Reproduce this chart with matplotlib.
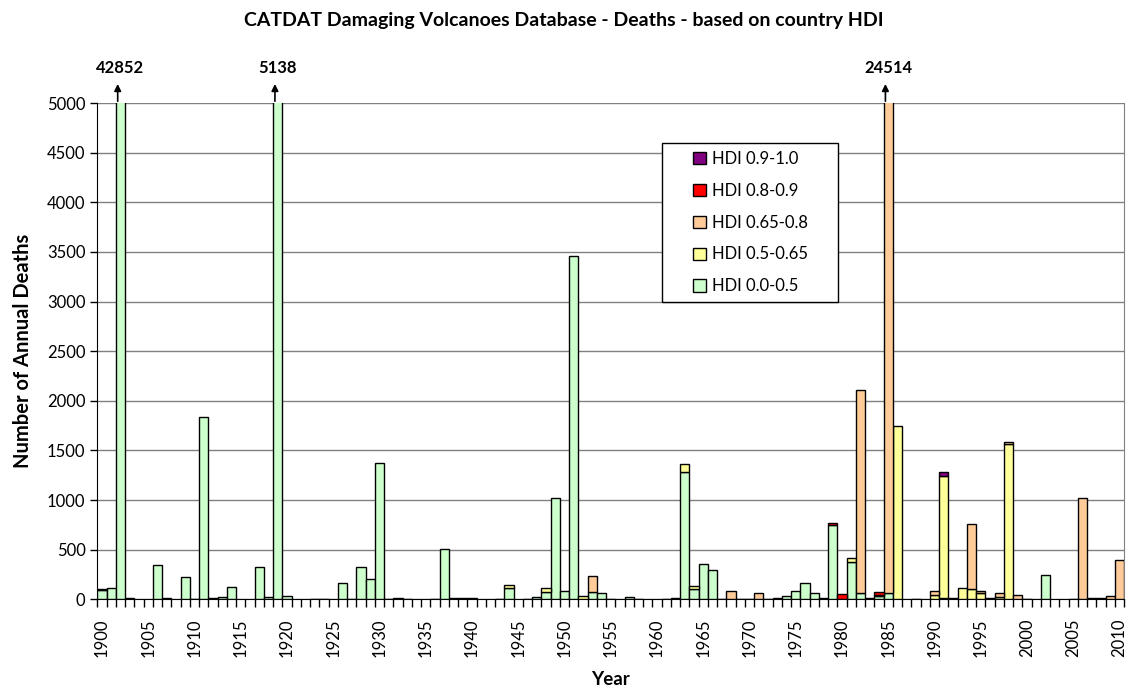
import numpy as np
import matplotlib.pyplot as plt
from matplotlib.patches import Patch, Rectangle

plt.rcParams['font.family'] = ['Lato', 'DejaVu Sans']

# Years 1900 - 2010
years = np.arange(1900, 2011)

# Annual deaths per HDI band (rows = decades)
hdi_00_05 = [
    92, 110, 42852, 15, 0, 0, 348, 12, 0, 220,
    5, 1841, 17, 22, 125, 0, 0, 328, 25, 5138,
    37, 0, 0, 3, 2, 0, 162, 8, 321, 203,
    1378, 2, 15, 8, 0, 0, 2, 510, 15, 12,
    10, 0, 0, 2, 118, 0, 3, 25, 75, 1017,
    88, 3455, 0, 75, 60, 3, 0, 20, 5, 0,
    0, 8, 12, 1284, 108, 351, 300, 8, 0, 5,
    2, 0, 5, 15, 30, 85, 162, 68, 17, 750,
    0, 372, 65, 15, 30, 65, 0, 0, 8, 0,
    0, 15, 0, 0, 0, 0, 0, 0, 0, 0,
    6, 0, 246, 0, 0, 3, 0, 0, 0, 0,
    0,
]
hdi_05_065 = [
    16, 0, 0, 0, 0, 0, 0, 0, 0, 0,
    0, 0, 0, 0, 0, 0, 0, 0, 0, 0,
    0, 0, 0, 0, 0, 0, 0, 0, 0, 0,
    0, 0, 0, 0, 0, 0, 0, 0, 0, 0,
    0, 0, 0, 0, 30, 0, 0, 0, 40, 0,
    0, 0, 35, 0, 0, 0, 0, 0, 0, 0,
    0, 0, 0, 77, 25, 0, 0, 0, 0, 0,
    0, 0, 0, 0, 0, 0, 0, 0, 0, 0,
    0, 47, 0, 0, 0, 0, 1750, 0, 0, 0,
    45, 1225, 15, 111, 101, 65, 17, 20, 1560, 0,
    0, 0, 0, 0, 0, 0, 0, 0, 0, 0,
    0,
]
hdi_065_08 = [
    0, 0, 0, 0, 0, 0, 0, 0, 0, 0,
    0, 0, 0, 0, 0, 0, 0, 0, 0, 0,
    0, 0, 0, 0, 0, 0, 0, 0, 0, 0,
    0, 0, 0, 0, 0, 0, 0, 0, 0, 0,
    0, 0, 0, 0, 0, 0, 0, 0, 0, 0,
    0, 0, 0, 160, 0, 0, 0, 0, 0, 0,
    0, 0, 0, 0, 0, 0, 0, 0, 88, 0,
    0, 60, 0, 0, 0, 0, 0, 0, 0, 0,
    0, 0, 2040, 0, 15, 24449, 0, 0, 0, 0,
    35, 0, 0, 0, 660, 23, 0, 45, 20, 40,
    0, 0, 0, 0, 0, 0, 1024, 10, 12, 30,
    398,
]
hdi_08_09 = [0] * 111
hdi_08_09[79] = 15
hdi_08_09[80] = 50
hdi_08_09[84] = 25
hdi_09_10 = [0] * 111
hdi_09_10[91] = 45

series = [hdi_00_05, hdi_05_065, hdi_065_08, hdi_08_09, hdi_09_10]
labels = ['HDI 0.0-0.5', 'HDI 0.5-0.65', 'HDI 0.65-0.8', 'HDI 0.8-0.9', 'HDI 0.9-1.0']
colors = ['#CCFFCC', '#FFFF99', '#FFCC99', '#FF0000', '#800080']

# Bars that run off the top of the chart
off_scale = {1902: '42852', 1919: '5138', 1985: '24514'}

fig = plt.figure(figsize=(11.28, 6.91), dpi=100)
ax = fig.add_axes([0.0863, 0.1327, 0.9102, 0.7182])

bottom = np.zeros(len(years))
for vals, col in zip(series, colors):
    vals = np.array(vals, dtype=float)
    lw = np.where(vals > 0, 1.0, 0.0)
    ax.bar(years, vals, width=1.0, bottom=bottom, color=col,
           edgecolor='black', linewidth=lw, zorder=3)
    bottom += vals

ax.set_xlim(1899.5, 2010.5)
ax.set_ylim(0, 5000)
ax.set_yticks(np.arange(0, 5001, 500))
ax.yaxis.grid(True, color='#808080', linewidth=1.0, zorder=0)

# tick marks between bars, labels every 5 years
ax.set_xticks(np.arange(1899.5, 2011, 1.0))
ax.set_xticklabels([])
ax.set_xticks(np.arange(1900, 2011, 5), minor=True)
ax.set_xticklabels([str(y) for y in range(1900, 2011, 5)], minor=True,
                   rotation=90, fontsize=12)
ax.tick_params(axis='x', which='major', length=6, direction='out', width=1)
ax.tick_params(axis='x', which='minor', length=0, pad=14)
ax.tick_params(axis='y', length=5, direction='out', labelsize=12, width=1)

ax.spines['top'].set_visible(False)
ax.spines['right'].set_color('#808080')
ax.spines['left'].set_color('black')
ax.spines['bottom'].set_color('black')

for yr, txt in off_scale.items():
    xa = yr - 0.3
    ax.annotate('', xy=(xa, 5220), xytext=(xa, 4990),
                arrowprops=dict(arrowstyle='-|>', color='black', lw=1.2,
                                mutation_scale=10),
                annotation_clip=False)
    ax.text(yr, 5355, txt, ha='center', va='center', fontsize=12,
            fontweight='bold')

ax.set_xlabel('Year', fontsize=13.5, fontweight='bold', labelpad=10)
ax.set_ylabel('Number of Annual Deaths', fontsize=14.5, fontweight='bold', labelpad=10)
fig.suptitle('CATDAT Damaging Volcanoes Database - Deaths - based on country HDI',
             fontsize=14, fontweight='bold', y=0.982)

# legend box drawn separately so it can be wider than its entries
ax.add_patch(Rectangle((0.5869, 0.5630), 0.1560, 0.2301,
                       transform=fig.transFigure, facecolor='white',
                       edgecolor='black', linewidth=1.0, zorder=4,
                       clip_on=False))
handles = [Patch(facecolor=c, edgecolor='black', label=l)
           for c, l in zip(colors, labels)][::-1]
leg = ax.legend(handles=handles, loc='upper left',
                bbox_to_anchor=(0.6144, 0.7815), bbox_transform=fig.transFigure,
                fontsize=12, frameon=False, handlelength=0.75, handleheight=0.75,
                handletextpad=0.4, labelspacing=0.95, borderpad=0,
                borderaxespad=0)
leg.set_zorder(5)

fig.savefig('out.png', dpi=100)
